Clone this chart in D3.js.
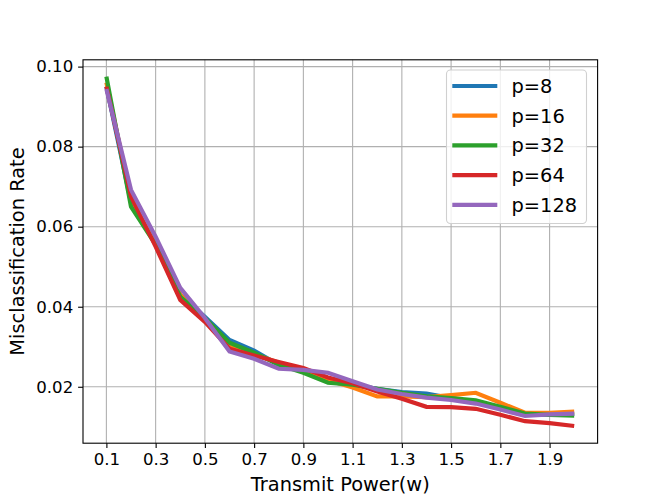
<!DOCTYPE html>
<html>
<head>
<meta charset="utf-8">
<script src="https://cdn.jsdelivr.net/npm/d3@7/dist/d3.min.js"></script>
<style>
  html, body { margin: 0; padding: 0; background: #fff; }
  svg { display: block; font-family: "DejaVu Sans", sans-serif; }
</style>
</head>
<body>
<svg id="chart" width="664" height="498"></svg>
<script>
const xValues = [0.1, 0.2, 0.3, 0.4, 0.5, 0.6, 0.7, 0.8, 0.9, 1.0, 1.1, 1.2, 1.3, 1.4, 1.5, 1.6, 1.7, 1.8, 1.9, 2.0];
const seriesNames = ["p=8", "p=16", "p=32", "p=64", "p=128"];
const seriesColors = ["#1f77b4", "#ff7f0e", "#2ca02c", "#d62728", "#9467bd"];
const p8   = [0.0950, 0.0660, 0.0560, 0.0430, 0.0375, 0.0317, 0.0290, 0.0255, 0.0240, 0.0212, 0.0205, 0.0195, 0.0187, 0.0183, 0.0172, 0.0162, 0.0148, 0.0130, 0.0131, 0.0132];
const p16  = [0.0960, 0.0670, 0.0555, 0.0430, 0.0370, 0.0300, 0.0282, 0.0260, 0.0240, 0.0217, 0.0198, 0.0176, 0.0176, 0.0174, 0.0179, 0.0185, 0.0160, 0.0135, 0.0135, 0.0138];
const p32  = [0.0975, 0.0650, 0.0555, 0.0425, 0.0372, 0.0310, 0.0285, 0.0255, 0.0235, 0.0210, 0.0205, 0.0195, 0.0185, 0.0176, 0.0172, 0.0166, 0.0150, 0.0133, 0.0130, 0.0128];
const p64  = [0.0950, 0.0675, 0.0550, 0.0417, 0.0362, 0.0295, 0.0278, 0.0262, 0.0247, 0.0223, 0.0209, 0.0188, 0.0170, 0.0150, 0.0149, 0.0145, 0.0130, 0.0114, 0.0109, 0.0102];
const p128 = [0.0944, 0.0692, 0.0575, 0.0447, 0.0372, 0.0288, 0.0270, 0.0245, 0.0242, 0.0235, 0.0214, 0.0193, 0.0182, 0.0173, 0.0167, 0.0158, 0.0143, 0.0127, 0.0131, 0.0133];
const xTicks = [0.1, 0.3, 0.5, 0.7, 0.9, 1.1, 1.3, 1.5, 1.7, 1.9];
const yTicks = [0.02, 0.04, 0.06, 0.08, 0.10];
const xLabel = "Transmit Power(w)";
const yLabel = "Misclassification Rate";

const seriesValues = [p8, p16, p32, p64, p128];

const svg = d3.select("#chart");
const L = 83, R = 597.6, T = 59.8, B = 443.2;

const x = d3.scaleLinear().domain([0.005, 2.095]).range([L, R]);
const y = d3.scaleLinear().domain([0.0059, 0.1017]).range([B, T]);

// grid
const grid = svg.append("g");
grid.selectAll("line.gx").data(xTicks).enter().append("line")
  .attr("x1", d => x(d)).attr("x2", d => x(d)).attr("y1", T).attr("y2", B)
  .attr("stroke", "#b0b0b0").attr("stroke-width", 1.1);
grid.selectAll("line.gy").data(yTicks).enter().append("line")
  .attr("x1", L).attr("x2", R).attr("y1", d => y(d)).attr("y2", d => y(d))
  .attr("stroke", "#b0b0b0").attr("stroke-width", 1.1);

// lines
const line = d3.line().x((d, i) => x(xValues[i])).y(d => y(d));
const plot = svg.append("g");
plot.append("clipPath").attr("id", "clip").append("rect")
  .attr("x", L).attr("y", T).attr("width", R - L).attr("height", B - T);
seriesValues.forEach((vals, k) => {
  plot.append("path").datum(vals)
    .attr("d", line)
    .attr("fill", "none")
    .attr("stroke", seriesColors[k])
    .attr("stroke-width", 4.2)
    .attr("stroke-linejoin", "miter")
    .attr("stroke-linecap", "butt")
    .attr("clip-path", "url(#clip)");
});

// axes
const xAxis = d3.axisBottom(x).tickValues(xTicks).tickSize(4.9).tickPadding(4.9)
  .tickFormat(d3.format(".1f"));
const yAxis = d3.axisLeft(y).tickValues(yTicks).tickSize(4.9).tickPadding(4.9)
  .tickFormat(d3.format(".2f"));

const gx = svg.append("g").attr("transform", `translate(0,${B})`).call(xAxis);
const gy = svg.append("g").attr("transform", `translate(${L},0)`).call(yAxis);
[gx, gy].forEach(g => {
  g.select(".domain").remove();
  g.selectAll(".tick line").attr("stroke", "#000").attr("stroke-width", 1.1);
  g.selectAll(".tick text").attr("fill", "#000")
    .style("font-family", "DejaVu Sans").style("font-size", "16.6px");
});

// frame
svg.append("rect").attr("x", L).attr("y", T).attr("width", R - L).attr("height", B - T)
  .attr("fill", "none").attr("stroke", "#000").attr("stroke-width", 1.1);

// axis labels
svg.append("text").attr("x", (L + R) / 2).attr("y", 491)
  .attr("text-anchor", "middle").style("font-size", "19.4px").attr("fill", "#000")
  .text(xLabel);
svg.append("text")
  .attr("transform", `translate(24,${(T + B) / 2}) rotate(-90)`)
  .attr("text-anchor", "middle").style("font-size", "19.4px").attr("fill", "#000")
  .text(yLabel);

// legend
const lg = svg.append("g");
lg.append("rect").attr("x", 446.5).attr("y", 70).attr("width", 140).attr("height", 153.5)
  .attr("rx", 4).attr("ry", 4)
  .attr("fill", "#fff").attr("fill-opacity", 0.8)
  .attr("stroke", "#d0d0d0").attr("stroke-width", 1.1);
seriesNames.forEach((name, k) => {
  const cy = 86 + k * 29.7;
  lg.append("line").attr("x1", 452.3).attr("x2", 497.3).attr("y1", cy).attr("y2", cy)
    .attr("stroke", seriesColors[k]).attr("stroke-width", 4.2);
  lg.append("text").attr("x", 511.5).attr("y", cy + 7)
    .style("font-size", "19.4px").attr("fill", "#000").text(name);
});
</script>
</body>
</html>
